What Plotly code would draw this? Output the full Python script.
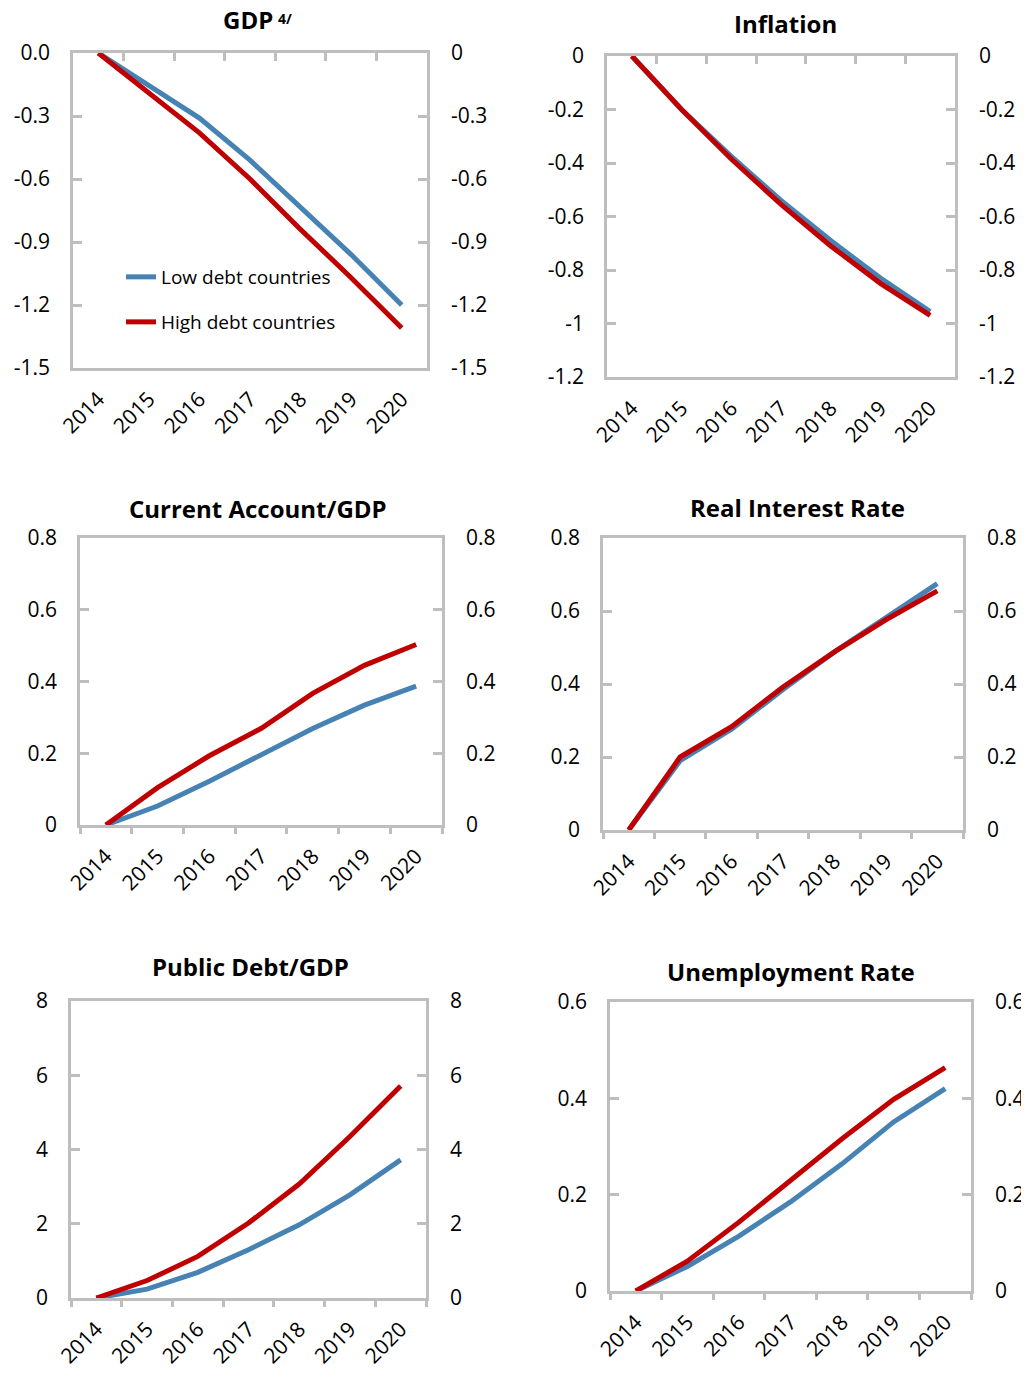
import plotly.graph_objects as go

# ---------------- data ----------------
years = [2014, 2015, 2016, 2017, 2018, 2019, 2020]
year_labels = ["2014", "2015", "2016", "2017", "2018", "2019", "2020"]
series_names = ["Low debt countries", "High debt countries"]

gdp_low = [0, -0.155, -0.31, -0.51, -0.735, -0.96, -1.2]
gdp_high = [0, -0.19, -0.38, -0.60, -0.84, -1.07, -1.31]
infl_low = [0, -0.20, -0.375, -0.54, -0.69, -0.83, -0.955]
infl_high = [0, -0.20, -0.385, -0.555, -0.71, -0.85, -0.97]
ca_low = [0, 0.053, 0.122, 0.195, 0.269, 0.334, 0.387]
ca_high = [0, 0.104, 0.193, 0.269, 0.367, 0.445, 0.503]
rir_low = [0, 0.19, 0.276, 0.385, 0.488, 0.582, 0.675]
rir_high = [0, 0.20, 0.283, 0.392, 0.488, 0.576, 0.655]
debt_low = [0, 0.24, 0.69, 1.30, 1.97, 2.78, 3.72]
debt_high = [0, 0.47, 1.12, 2.02, 3.07, 4.35, 5.71]
unemp_low = [0, 0.051, 0.114, 0.185, 0.264, 0.351, 0.42]
unemp_high = [0, 0.062, 0.143, 0.229, 0.316, 0.398, 0.464]

titles = ["GDP", "Inflation", "Current Account/GDP",
          "Real Interest Rate", "Public Debt/GDP", "Unemployment Rate"]
gdp_note = "4/"

gdp_ticks = [0, -0.3, -0.6, -0.9, -1.2, -1.5]
gdp_left_text = ["0.0", "-0.3", "-0.6", "-0.9", "-1.2", "-1.5"]
gdp_right_text = ["0", "-0.3", "-0.6", "-0.9", "-1.2", "-1.5"]
infl_ticks = [0, -0.2, -0.4, -0.6, -0.8, -1.0, -1.2]
infl_text = ["0", "-0.2", "-0.4", "-0.6", "-0.8", "-1", "-1.2"]
ca_ticks = [0, 0.2, 0.4, 0.6, 0.8]
ca_text = ["0", "0.2", "0.4", "0.6", "0.8"]
debt_ticks = [0, 2, 4, 6, 8]
debt_text = ["0", "2", "4", "6", "8"]
unemp_ticks = [0, 0.2, 0.4, 0.6]
unemp_text = ["0", "0.2", "0.4", "0.6"]

# ---------------- style / layout ----------------
PAGE_W, PAGE_H = 1029, 1374
OFF = 8                      # default body margin of the html page
W, H = PAGE_W - OFF, PAGE_H - OFF
BLUE = "#4682B4"
RED = "#C00000"
GRID = "#BEBEBE"
FONT = "Open Sans"
TICK_SIZE = 21


def px_x(v):
    return (v - OFF) / W


def px_y(v):
    return 1 - (v - OFF) / H


panels = [
    dict(low=gdp_low, high=gdp_high, rng=[-1.5, 0], tv=gdp_ticks, lt=gdp_left_text, rt=gdp_right_text,
         box=(73, 427, 53, 368), top=True, title_xy=(248, 20)),
    dict(low=infl_low, high=infl_high, rng=[-1.2, 0], tv=infl_ticks, lt=infl_text, rt=infl_text,
         box=(607, 955, 56, 377), top=True, title_xy=(785, 23)),
    dict(low=ca_low, high=ca_high, rng=[0, 0.8], tv=ca_ticks, lt=ca_text, rt=ca_text,
         box=(80, 442, 538, 825), top=False, title_xy=(258, 508)),
    dict(low=rir_low, high=rir_high, rng=[0, 0.8], tv=ca_ticks, lt=ca_text, rt=ca_text,
         box=(603, 963, 538, 830), top=False, title_xy=(797, 507)),
    dict(low=debt_low, high=debt_high, rng=[0, 8], tv=debt_ticks, lt=debt_text, rt=debt_text,
         box=(71, 426, 1001, 1298), top=False, title_xy=(250, 967)),
    dict(low=unemp_low, high=unemp_high, rng=[0, 0.6], tv=unemp_ticks, lt=unemp_text, rt=unemp_text,
         box=(610, 971, 1002, 1291), top=False, title_xy=(791, 971)),
]

fig = go.Figure()
layout = dict(
    template="none",
    width=W, height=H, margin=dict(l=0, r=0, t=0, b=0, pad=0, autoexpand=False),
    paper_bgcolor="white", plot_bgcolor="white",
    font=dict(family=FONT, size=TICK_SIZE, color="black"),
    showlegend=True, annotations=[],
)

boundaries = [y + 0.5 for y in years[:-1]]
xr = [years[0] - 0.5, years[-1] + 0.5]

for i, p in enumerate(panels):
    k = i + 1
    k2 = i + 7
    xa = "x" if k == 1 else f"x{k}"
    ya = "y" if k == 1 else f"y{k}"
    l, r, t, b = p["box"]
    xd = [px_x(l), px_x(r)]
    yd = [px_y(b), px_y(t)]

    for name, vals, col in [(series_names[0], p["low"], BLUE), (series_names[1], p["high"], RED)]:
        fig.add_trace(go.Scatter(
            x=years, y=vals, mode="lines", name=name,
            line=dict(color=col, width=5),
            xaxis=xa, yaxis=ya,
            showlegend=(k == 1),
            legend="legend" if col == BLUE else "legend2",
            hoverinfo="skip",
        ))
    # invisible copy on the secondary (right / tick) axes so they get drawn
    fig.add_trace(go.Scatter(
        x=years, y=p["high"], mode="lines", line=dict(color="rgba(0,0,0,0)", width=0),
        xaxis=f"x{k2}", yaxis=f"y{k2}", showlegend=False, hoverinfo="skip",
    ))

    # bottom category axis with labels
    layout[f"xaxis{'' if k == 1 else k}"] = dict(
        domain=xd, anchor=ya, range=xr, tickvals=years, ticktext=year_labels,
        tickangle=-45, ticks="", showgrid=False, zeroline=False, automargin=False,
        showline=True, linecolor=GRID, linewidth=2.5, mirror=True,
        ticklabelstandoff=8, tickfont=dict(size=TICK_SIZE),
    )
    # boundary tick marks (top for negative panels, bottom otherwise)
    layout[f"xaxis{k2}"] = dict(
        overlaying=xa, anchor=ya, range=xr, side="top" if p["top"] else "bottom",
        tickvals=(boundaries if p["top"] else [xr[0]] + boundaries + [xr[1]]),
        ticks="inside" if p["top"] else "outside", ticklen=8, tickwidth=2.5, tickcolor=GRID,
        showticklabels=False, showgrid=False, zeroline=False, showline=False, automargin=False,
    )
    # left y axis
    layout[f"yaxis{'' if k == 1 else k}"] = dict(
        domain=yd, anchor=xa, range=p["rng"], tickvals=p["tv"], ticktext=p["lt"],
        ticks="inside", ticklen=9, tickwidth=2.5, tickcolor=GRID, automargin=False,
        showgrid=False, zeroline=False, showline=True, linecolor=GRID, linewidth=2.5, mirror=True,
        ticklabelstandoff=16,
    )
    # right y axis
    layout[f"yaxis{k2}"] = dict(
        overlaying=ya, anchor=xa, side="right", range=p["rng"], tickvals=p["tv"], ticktext=p["rt"],
        ticks="inside", ticklen=9, tickwidth=2.5, tickcolor=GRID, automargin=False,
        showgrid=False, zeroline=False, showline=False,
        ticklabelstandoff=23,
    )
    tx, ty = p["title_xy"]
    layout["annotations"].append(dict(
        text=titles[i], x=px_x(tx), y=px_y(ty), xref="paper", yref="paper",
        xanchor="center", yanchor="middle", showarrow=False,
        font=dict(family=FONT, size=24, weight="bold", color="black"),
    ))

# footnote marker of the GDP title
layout["annotations"].append(dict(
    text=gdp_note, x=px_x(276), y=px_y(18), xref="paper", yref="paper",
    xanchor="left", yanchor="middle", showarrow=False,
    font=dict(family=FONT, size=14, weight="bold", color="black"),
))

legend_common = dict(bgcolor="rgba(0,0,0,0)", borderwidth=0,
                     font=dict(family=FONT, size=19, color="black"),
                     xanchor="left", yanchor="middle", itemwidth=30)
layout["legend"] = dict(x=px_x(121), y=px_y(277), **legend_common)
layout["legend2"] = dict(x=px_x(121), y=px_y(322), **legend_common)

fig.update_layout(**layout)
fig.write_html("out.html")
